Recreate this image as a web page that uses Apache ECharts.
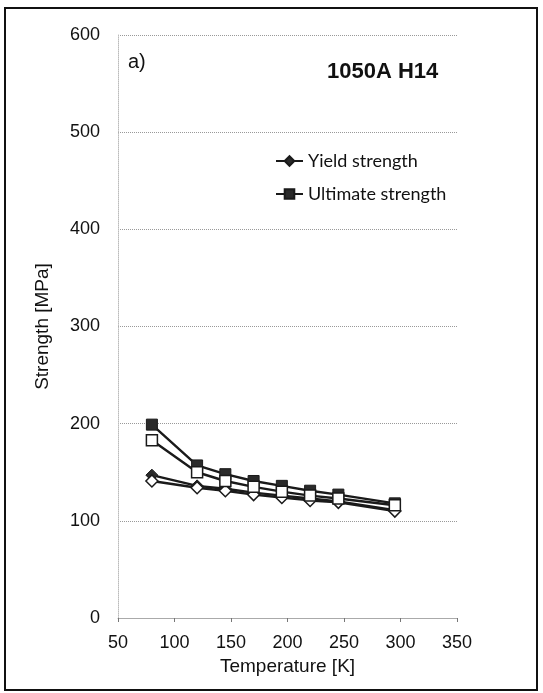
<!DOCTYPE html>
<html>
<head>
<meta charset="utf-8">
<script src="https://cdn.jsdelivr.net/npm/echarts@6/dist/echarts.min.js"></script>
<style>html,body{margin:0;padding:0;background:#fff;}#c{width:543px;height:693px;}</style>
</head>
<body>
<div id="c"></div>
<script>
const temperatures = [80, 120, 145, 170, 195, 220, 245, 295];
const yieldFilled = [147, 136, 133, 129, 126, 123, 120, 111];
const yieldOpen = [141, 134, 131, 127, 124, 121, 119, 110];
const ultimateFilled = [199, 157, 148, 141, 136, 131, 127, 118];
const ultimateOpen = [183, 150, 141, 135, 130, 126, 123, 116];
const xTicks = [50, 100, 150, 200, 250, 300, 350];
const yTicks = [0, 100, 200, 300, 400, 500, 600];

function pairs(xs, ys) { return xs.map((x, i) => [x, ys[i]]); }

const chart = echarts.init(document.getElementById('c'));
const lineCol = '#1a1a1a';
chart.setOption({
  animation: false,
  backgroundColor: '#fff',
  grid: { left: 118, right: 86, top: 35, bottom: 75 },
  xAxis: {
    type: 'value', min: xTicks[0], max: xTicks[xTicks.length - 1], interval: 50,
    name: 'Temperature [K]', nameLocation: 'middle', nameGap: 37,
    nameTextStyle: { fontFamily: 'Liberation Sans', fontSize: 19, color: '#111' },
    axisLine: { show: true, lineStyle: { color: '#aaa', width: 1 } },
    axisTick: { show: true, inside: false, length: 4, lineStyle: { color: '#777' } },
    axisLabel: { fontFamily: 'Liberation Sans', fontSize: 18, color: '#111', margin: 16 },
    splitLine: { show: false }
  },
  yAxis: {
    type: 'value', min: yTicks[0], max: yTicks[yTicks.length - 1], interval: 100,
    name: 'Strength [MPa]', nameLocation: 'middle', nameGap: 66,
    nameTextStyle: { fontFamily: 'Liberation Sans', fontSize: 19, color: '#111' },
    axisLine: { show: true, lineStyle: { color: '#bbb', width: 1, type: 'dotted' } },
    axisTick: { show: false },
    axisLabel: { fontFamily: 'Liberation Sans', fontSize: 18, color: '#111', margin: 18 },
    splitLine: { show: true, lineStyle: { color: '#999', width: 1, type: 'dotted' } }
  },
  legend: {
    orient: 'vertical', left: 270, top: 147, itemWidth: 27, itemHeight: 12, itemGap: 15,
    data: ['Yield strength', 'Ultimate strength'],
    textStyle: { fontFamily: 'Lato', fontSize: 18, color: '#111' }
  },
  series: [
    { name: 'Yield strength', type: 'line', data: pairs(temperatures, yieldFilled),
      symbol: 'diamond', symbolSize: 12,
      lineStyle: { color: lineCol, width: 2.4 },
      itemStyle: { color: '#2a2a2a', borderColor: lineCol, borderWidth: 1 }, z: 3 },
    { name: 'Yield open', type: 'line', data: pairs(temperatures, yieldOpen),
      symbol: 'diamond', symbolSize: 12,
      lineStyle: { color: lineCol, width: 2.4 },
      itemStyle: { color: '#fff', borderColor: lineCol, borderWidth: 1.5 }, z: 4 },
    { name: 'Ultimate strength', type: 'line', data: pairs(temperatures, ultimateFilled),
      symbol: 'rect', symbolSize: 11,
      lineStyle: { color: lineCol, width: 2.4 },
      itemStyle: { color: '#2a2a2a', borderColor: lineCol, borderWidth: 1 }, z: 3 },
    { name: 'Ultimate open', type: 'line', data: pairs(temperatures, ultimateOpen),
      symbol: 'rect', symbolSize: 11,
      lineStyle: { color: lineCol, width: 2.4 },
      itemStyle: { color: '#fff', borderColor: lineCol, borderWidth: 1.5 }, z: 4 }
  ],
  graphic: [
    { type: 'rect', shape: { x: 5, y: 8, width: 532, height: 682 },
      style: { fill: 'none', stroke: '#111', lineWidth: 2 }, silent: true, z: -1 },
    { type: 'text', left: 128, top: 52,
      style: { text: 'a)', fontFamily: 'Liberation Sans', fontSize: 20, fill: '#111' } },
    { type: 'text', left: 327, top: 61,
      style: { text: '1050A H14', fontFamily: 'Liberation Sans', fontWeight: 'bold', fontSize: 22, fill: '#111' } }
  ]
});
</script>
</body>
</html>
